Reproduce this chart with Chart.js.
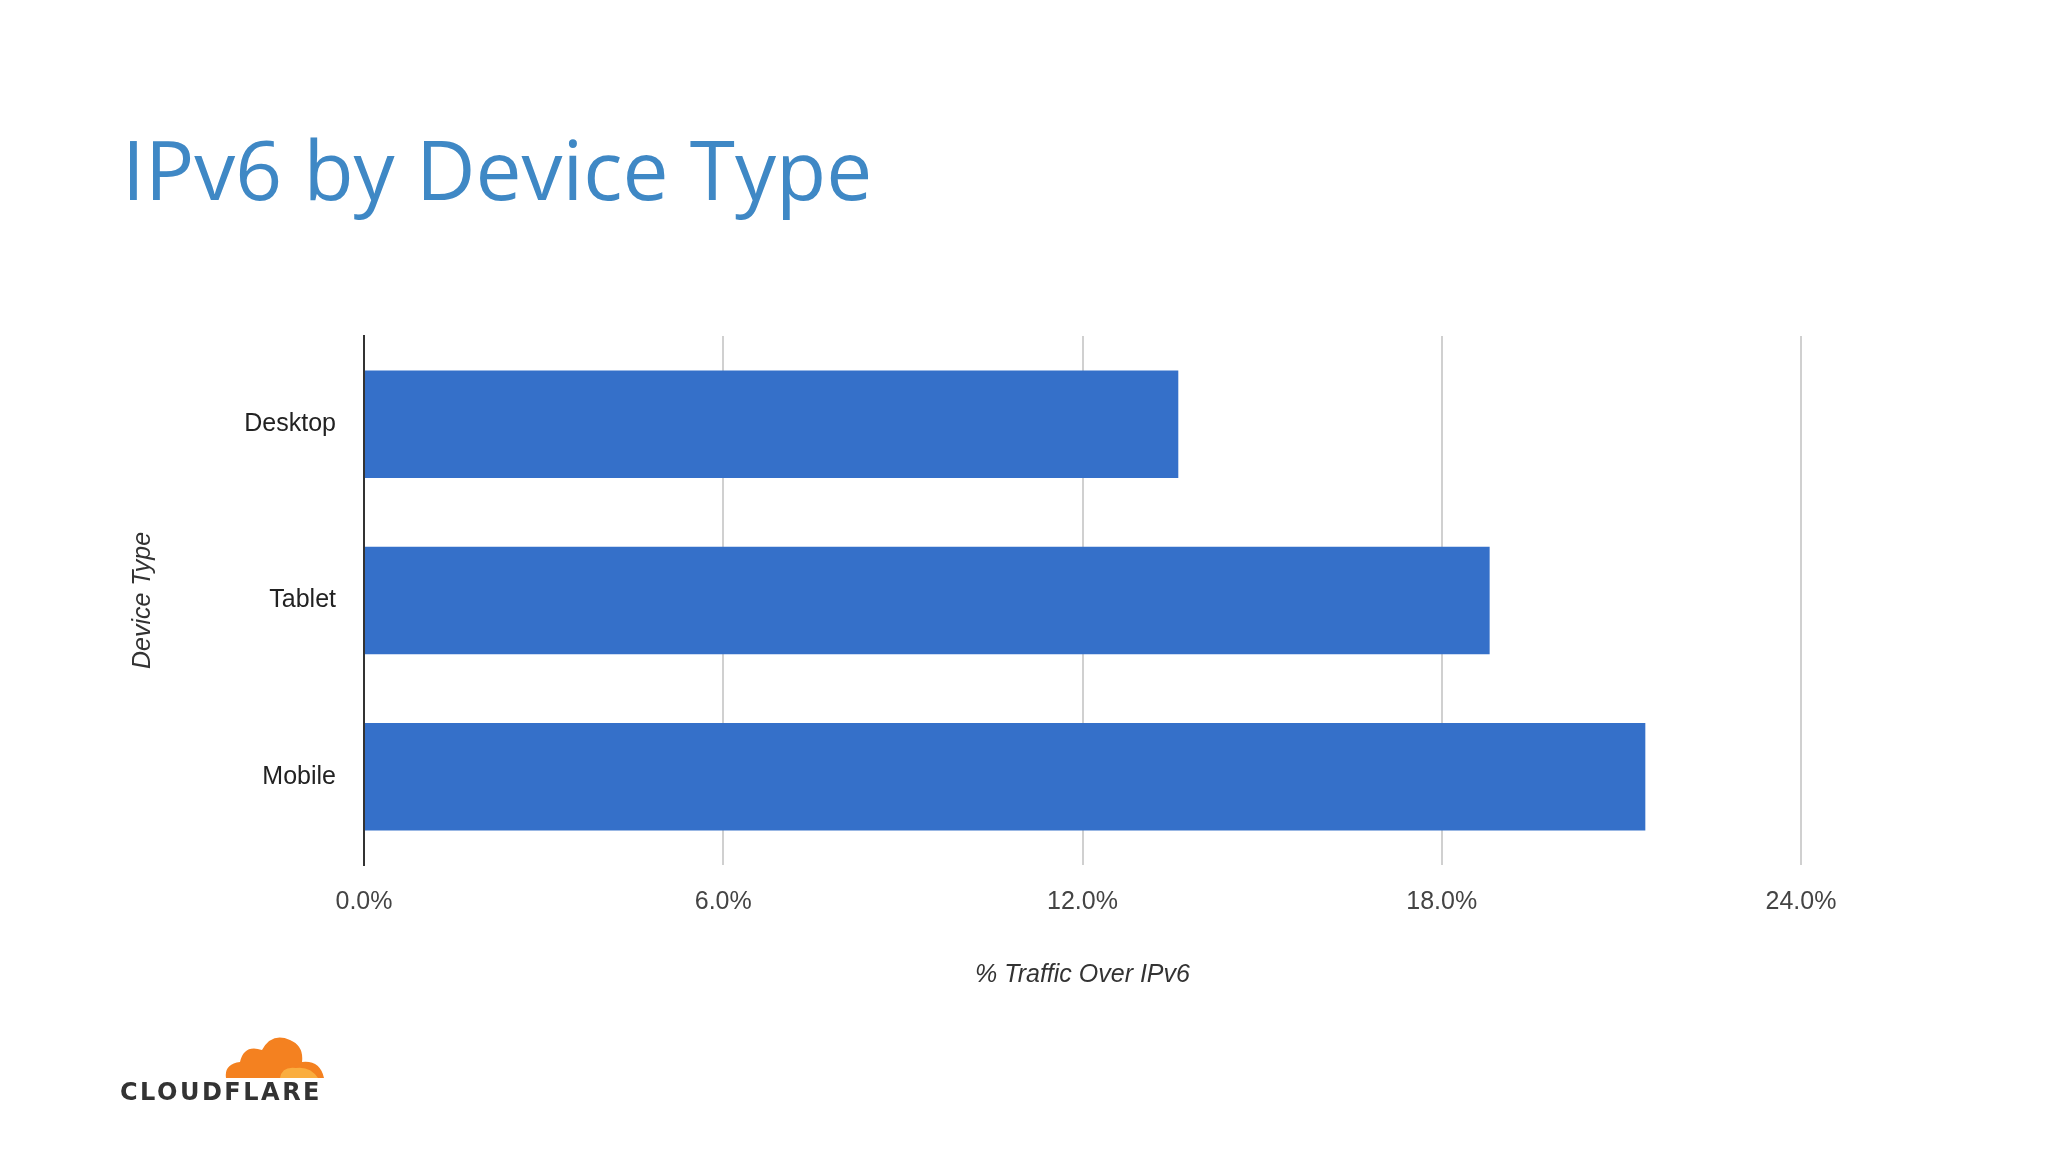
<!DOCTYPE html>
<html><head><meta charset="utf-8">
<script src="https://cdn.jsdelivr.net/npm/chart.js@4/dist/chart.umd.min.js"></script>
<style>
html,body{margin:0;padding:0;background:#fff;width:2048px;height:1152px;overflow:hidden;font-family:"Open Sans",sans-serif}
#title{position:absolute;left:122px;top:112px;font-size:82px;color:#3f88c5;font-family:"Open Sans";white-space:nowrap}
#wrap{position:absolute;left:0;top:0;width:2048px;height:1152px}
#logo{position:absolute;left:120px;top:1030px}
#logo div{font-family:"DejaVu Sans";font-weight:bold;font-size:24px;letter-spacing:2.5px;color:#333;margin-top:-4px}
</style></head><body>
<div id="wrap"><canvas id="c" width="2048" height="1152"></canvas></div>
<div id="title">IPv6 by Device Type</div>
<div id="logo"><svg width="220" height="52" viewBox="0 0 220 52" style="margin-left:100px;display:block">
<path d="M6 48 Q4 34 20 32 Q24 14 42 20 Q52 2 70 10 Q84 16 82 32 Q100 30 104 48 Z" fill="#f48120"/>
<path d="M60 48 Q62 36 76 38 Q90 36 98 48 Z" fill="#faad3f"/>
</svg><div>CLOUDFLARE</div></div>
<script>
const categories = ["Desktop","Tablet","Mobile"];
const values = [13.6, 18.8, 21.4];
const xTicks = [0, 6, 12, 18, 24];
const font = {family:"Liberation Sans", size:25};
new Chart(document.getElementById('c'), {
  type:'bar',
  data:{labels:categories, datasets:[{data:values, backgroundColor:'#3570c9', barPercentage:0.61, categoryPercentage:1}]},
  options:{
    indexAxis:'y', responsive:false, animation:false,
    layout:{padding:{top:336, right:247, left:0, bottom:158}},
    plugins:{legend:{display:false}, tooltip:{enabled:false}},
    scales:{
      x:{min:0,max:24,
        afterBuildTicks:s=>{s.ticks = xTicks.map(v=>({value:v}));},
        afterFit:s=>{s.height=129;},
        ticks:{font, color:'#444', padding:22, callback:v=>v.toFixed(1)+'%'},
        grid:{color:'#d0d0d0', lineWidth:2, drawTicks:false},
        border:{display:false},
        title:{display:true, text:'% Traffic Over IPv6', font:{family:"Liberation Sans", size:25, style:'italic'}, color:'#333', padding:{top:38}}
      },
      y:{
        afterFit:s=>{s.width=364;},
        ticks:{font, color:'#222', padding:28},
        grid:{display:false, drawTicks:false},
        border:{display:true, color:'#333', width:2},
        title:{display:true, text:'Device Type', font:{family:"Liberation Sans", size:25, style:'italic'}, color:'#333', padding:{top:128}}
      }
    }
  }
});
</script></body></html>
